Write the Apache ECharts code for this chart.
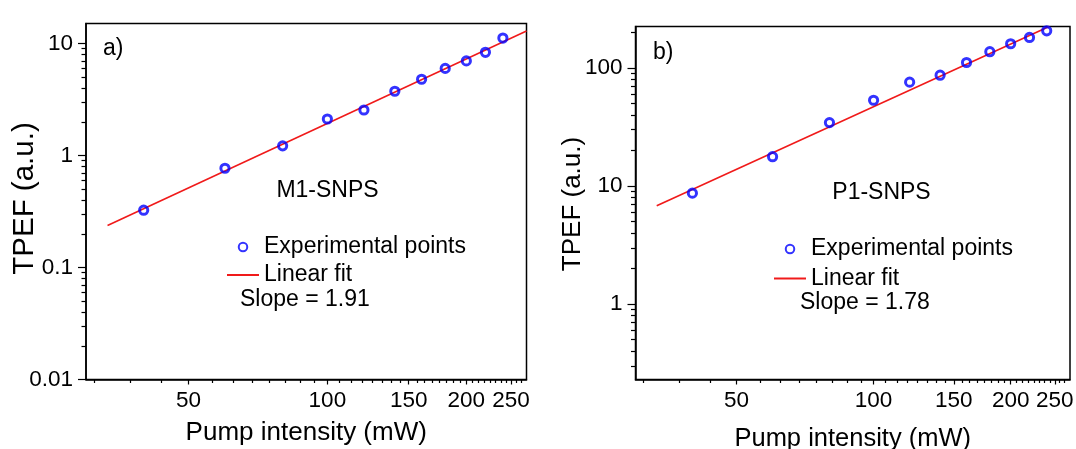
<!DOCTYPE html>
<html><head><meta charset="utf-8">
<script src="https://cdn.jsdelivr.net/npm/echarts@6/dist/echarts.min.js"></script>
<style>html,body{margin:0;padding:0;background:#fff}#c{width:1076px;height:449px}</style>
</head><body><div id="c"></div>
<script>
// ---- data ----
const pumpA = [40, 60, 80, 100, 120, 140, 160, 180, 200, 220, 240];
const tpefA = [0.325, 0.77, 1.22, 2.12, 2.55, 3.75, 4.8, 6.0, 7.0, 8.35, 11.2];
const fitAX = [33.4, 270];
const fitAY = [0.237, 12.96];

const pumpB = [40, 60, 80, 100, 120, 140, 160, 180, 200, 220, 240];
const tpefB = [8.7, 17.7, 34.4, 53.2, 75.7, 86.7, 111, 137, 160, 181, 206];
const fitBX = [33.4, 243];
const fitBY = [6.81, 224];

const xTickLabels = [50, 100, 150, 200, 250];
const xMinorTicks = [31.25, 37.5, 43.75,
  56.25, 62.5, 68.75, 75, 81.25, 87.5, 93.75,
  106.25, 112.5, 118.75, 125, 131.25, 137.5, 143.75,
  156.25, 162.5, 168.75, 175, 181.25, 187.5, 193.75,
  206.25, 212.5, 218.75, 225, 231.25, 237.5, 243.75,
  256.25, 262.5];
const yTickLabelsA = [0.01, 0.1, 1, 10];
const yMinorA = [0.02, 0.03, 0.04, 0.05, 0.06, 0.07, 0.08, 0.09,
  0.2, 0.3, 0.4, 0.5, 0.6, 0.7, 0.8, 0.9,
  2, 3, 4, 5, 6, 7, 8, 9];
const yTickLabelsB = [1, 10, 100];
const yMinorB = [0.3, 0.4, 0.5, 0.6, 0.7, 0.8, 0.9,
  2, 3, 4, 5, 6, 7, 8, 9,
  20, 30, 40, 50, 60, 70, 80, 90, 200];

const FONT = '"Liberation Sans", Arial, Helvetica, sans-serif';
const BLUE = '#0000ff';
const RED = '#f01a1a';

const pairs = (xs, ys) => xs.map((x, i) => [x, ys[i]]);
const fmt = v => String(+Number(v).toPrecision(6));

const G = [
  { left: 86, top: 23.5, width: 440.5, height: 356 },
  { left: 635.5, top: 26.5, width: 434.5, height: 353 }
];

function mainX(grid, min, max, nameGap, nameSize) {
  return {
    type: 'log', logBase: 10, gridIndex: grid, min: min, max: max, position: 'bottom',
    axisLine: { show: true, lineStyle: { color: '#000', width: 1.5 } },
    axisTick: { show: true, length: 5, lineStyle: { color: '#000', width: 1.2 }, customValues: xTickLabels },
    axisLabel: { customValues: xTickLabels, formatter: fmt, fontSize: 22.5, color: '#000', fontFamily: FONT, margin: 10, hideOverlap: false },
    splitLine: { show: false }, minorTick: { show: false }, minorSplitLine: { show: false },
    name: 'Pump intensity (mW)', nameLocation: 'middle', nameGap: nameGap, nameMoveOverlap: false,
    nameTextStyle: { fontSize: nameSize, color: '#000', fontFamily: FONT }
  };
}
// minor-tick layer: a top axis moved down onto the bottom edge, ticks pointing outward
function minorX(grid, min, max) {
  return {
    type: 'log', logBase: 10, gridIndex: grid, min: min, max: max, position: 'top', offset: -G[grid].height,
    axisLine: { show: false },
    axisTick: { show: true, inside: true, length: 3.5, lineStyle: { color: '#000', width: 1.2 }, customValues: xMinorTicks },
    axisLabel: { show: false }, splitLine: { show: false }
  };
}
function mainY(grid, min, max, ticks, nameGap, nameSize, pad) {
  return {
    type: 'log', logBase: 10, gridIndex: grid, min: min, max: max, position: 'left',
    axisLine: { show: true, lineStyle: { color: '#000', width: 1.5 } },
    axisTick: { show: true, length: 8, lineStyle: { color: '#000', width: 1.2 }, customValues: ticks },
    axisLabel: { customValues: ticks, formatter: fmt, fontSize: 22.5, color: '#000', fontFamily: FONT, margin: 13, hideOverlap: false },
    splitLine: { show: false }, minorTick: { show: false }, minorSplitLine: { show: false },
    name: 'TPEF (a.u.)', nameLocation: 'middle', nameGap: nameGap, nameMoveOverlap: false,
    nameTextStyle: { fontSize: nameSize, color: '#000', fontFamily: FONT, padding: pad }
  };
}
// minor-tick layer: a right axis moved onto the left edge, ticks pointing outward
function minorY(grid, min, max, ticks) {
  return {
    type: 'log', logBase: 10, gridIndex: grid, min: min, max: max, position: 'right', offset: -G[grid].width,
    axisLine: { show: false },
    axisTick: { show: true, inside: true, length: 4.5, lineStyle: { color: '#000', width: 1.2 }, customValues: ticks },
    axisLabel: { show: false }, splitLine: { show: false }
  };
}
function legendAt(left, top, gap) {
  return {
    orient: 'vertical', left: left, top: top, padding: 0, itemGap: gap,
    itemWidth: 32, itemHeight: 8.5, selectedMode: false,
    textStyle: { fontSize: 23, lineHeight: 24, color: '#000', fontFamily: FONT },
    data: [
      { name: 'Experimental points', icon: 'circle' },
      { name: 'Linear fit', itemStyle: { color: 'rgba(0,0,0,0)', borderWidth: 0, opacity: 0 } }
    ]
  };
}
function scatterS(xi, yi, data) {
  return {
    name: 'Experimental points', type: 'scatter', xAxisIndex: xi, yAxisIndex: yi,
    data: data, symbol: 'circle', symbolSize: 8.2, z: 3,
    itemStyle: { color: 'rgba(255,255,255,0)', borderColor: BLUE, borderWidth: 3 }
  };
}
function fitS(xi, yi, data) {
  return {
    name: 'Linear fit', type: 'line', xAxisIndex: xi, yAxisIndex: yi,
    data: data, symbol: 'none', clip: true, z: 2,
    lineStyle: { color: RED, width: 1.6 }, itemStyle: { color: RED }
  };
}
function txt(x, y, text, align) {
  return {
    type: 'text', x: x, y: y, z: 10,
    style: { text: text, fill: '#000', font: '23px ' + FONT, textAlign: align || 'left', textVerticalAlign: 'middle' }
  };
}

const chart = echarts.init(document.getElementById('c'), null, { renderer: 'canvas' });
chart.setOption({
  backgroundColor: '#fff',
  animation: false,
  grid: G.map(g => Object.assign({ show: true, borderColor: '#000', borderWidth: 1.5, containLabel: false, outerBoundsMode: 'none' }, g)),
  xAxis: [
    mainX(0, 30, 270, 40, 26),
    minorX(0, 30, 270),
    mainX(1, 30, 270, 46, 25.5),
    minorX(1, 30, 270)
  ],
  yAxis: [
    mainY(0, 0.01, 15.1, yTickLabelsA, 46, 29.5, [0, 0, 0, 6]),
    minorY(0, 0.01, 15.1, yMinorA),
    mainY(1, 0.23, 224, yTickLabelsB, 50, 26, [0, 2, 0, 0]),
    minorY(1, 0.23, 224, yMinorB)
  ],
  legend: [legendAt(226, 235, 4), legendAt(773, 237, 5.5)],
  series: [
    fitS(0, 0, pairs(fitAX, fitAY)),
    scatterS(0, 0, pairs(pumpA, tpefA)),
    fitS(2, 2, pairs(fitBX, fitBY)),
    scatterS(2, 2, pairs(pumpB, tpefB))
  ],
  graphic: [
    txt(103, 49, 'a)'),
    txt(327.5, 191, 'M1-SNPS', 'center'),
    txt(240, 300, 'Slope = 1.91'),
    txt(653, 53, 'b)'),
    txt(881.5, 193, 'P1-SNPS', 'center'),
    txt(800, 303, 'Slope = 1.78')
  ]
});
</script>
</body></html>
